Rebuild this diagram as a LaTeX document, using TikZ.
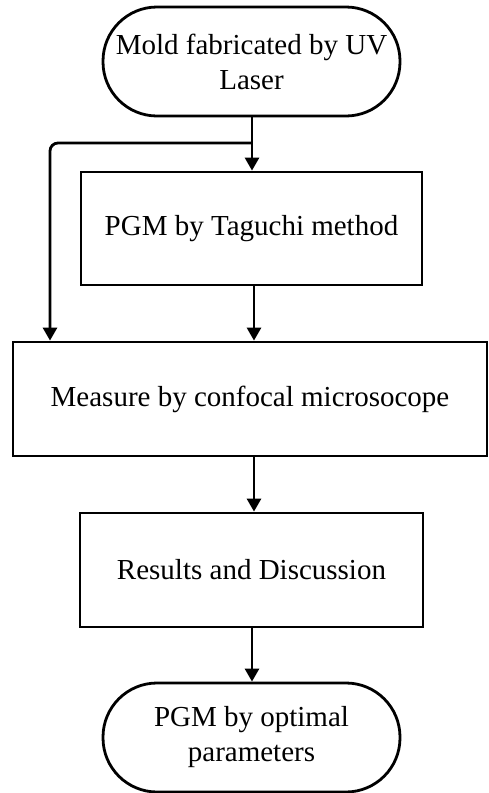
\documentclass[tikz,border=0pt]{standalone}
\usepackage{fontspec}
\setmainfont{Liberation Serif}
\usetikzlibrary{arrows.meta}
\begin{document}
\begin{tikzpicture}[x=1pt,y=-1pt,
  every node/.style={font=\fontsize{29}{35}\selectfont, align=center, inner sep=0pt},
  terminal/.style={draw, line width=2.8pt, rounded corners=54pt, minimum width=297pt, minimum height=109pt},
  process/.style={draw, line width=2.8pt, minimum height=113pt},
  flow/.style={line width=2.8pt, -{Triangle[length=13pt,width=14pt]}}]
  \useasboundingbox (0,0) rectangle (488,793);
  % process steps
  \node[terminal] (mold) at (251.5,61.5) {Mold fabricated by UV\\Laser};
  \node[process, minimum width=341pt] (taguchi) at (251.5,228.5) {PGM by Taguchi method};
  \node[process, minimum width=474pt, minimum height=114pt] (measure) at (250,399) {Measure by confocal microsocope};
  \node[process, minimum width=343pt, minimum height=114pt] (results) at (251.5,570) {Results and Discussion};
  \node[terminal] (optimal) at (251.5,737.5) {PGM by optimal\\parameters};
  % branch point below the mold
  \coordinate (split) at (252,143);
  % connectors
  \draw[flow] (mold.south -| split) -- (split |- taguchi.north);
  \draw[flow, rounded corners=8pt] (split) -- (50,143) -- (50,0 |- measure.north);
  \draw[flow] (254,0 |- taguchi.south) -- (254,0 |- measure.north);
  \draw[flow] (254,0 |- measure.south) -- (254,0 |- results.north);
  \draw[flow] (252,0 |- results.south) -- (252,0 |- optimal.north);
\end{tikzpicture}
\end{document}
